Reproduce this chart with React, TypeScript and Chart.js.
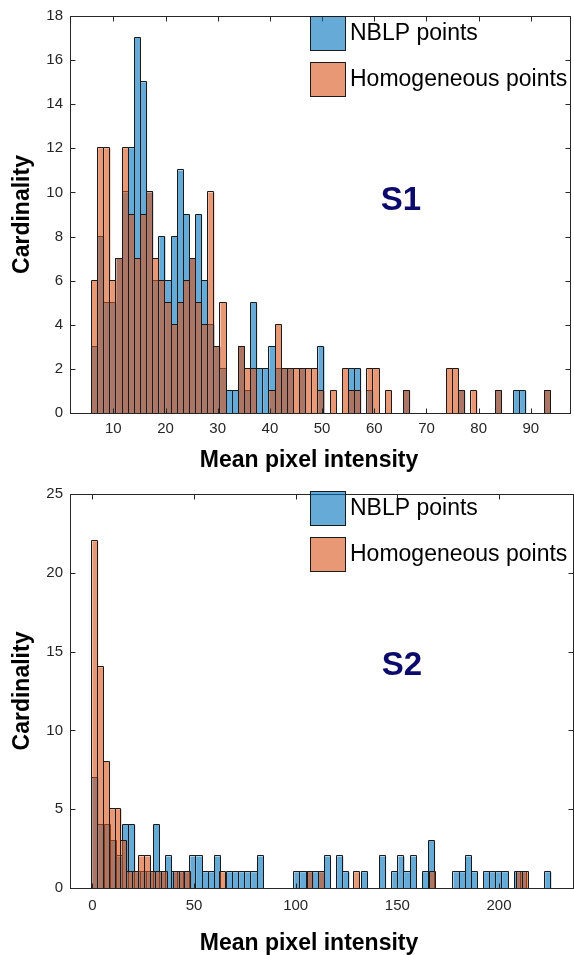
import React, { useEffect, useRef } from "react";
import { Chart, registerables } from "chart.js";

Chart.register(...registerables);

// ---------------- data ----------------
// Panel S1: both series share the same bins
const S1_BIN_START = 5.92;
const S1_BIN_WIDTH = 1.172;
const S1_NBLP = [
  3, 8, 5, 5, 7, 10, 12, 17, 15, 10,
  6, 8, 6, 8, 11, 9, 7, 9, 6, 4,
  3, 2, 1, 1, 3, 1, 5, 2, 2, 3,
  2, 2, 2, 0, 2, 0, 0, 3, 0, 0,
  0, 0, 2, 2, 0, 1, 0, 0, 0, 0,
  0, 1, 0, 0, 0, 0, 0, 0, 0, 0,
  1, 0, 0, 0, 0, 0, 1, 0, 0, 1,
  1, 0, 0, 0, 1,
];
const S1_HOMOGENEOUS = [
  6, 12, 12, 6, 7, 12, 9, 7, 9, 10,
  7, 6, 5, 4, 5, 6, 7, 5, 4, 10,
  3, 5, 0, 0, 3, 2, 2, 0, 0, 1,
  4, 2, 2, 2, 2, 2, 2, 1, 0, 1,
  0, 2, 1, 1, 0, 2, 2, 0, 1, 0,
  0, 1, 0, 0, 0, 0, 0, 0, 2, 2,
  1, 0, 1, 0, 0, 0, 1, 0, 0, 0,
  0, 0, 0, 0, 1,
];
const S1_X_TICKS = [10, 20, 30, 40, 50, 60, 70, 80, 90];
const S1_Y_TICKS = [0, 2, 4, 6, 8, 10, 12, 14, 16, 18];

// Panel S2: each series has its own bins
const S2_NBLP_BIN_START = 0;
const S2_NBLP_BIN_WIDTH = 3.01;
const S2_NBLP = [
  7, 4, 4, 3, 2, 4, 4, 1, 1, 1,
  4, 1, 2, 1, 1, 1, 2, 2, 1, 1,
  2, 0, 1, 1, 1, 1, 1, 2, 0, 0,
  0, 0, 0, 1, 1, 1, 1, 1, 2, 0,
  2, 1, 0, 0, 1, 0, 0, 2, 0, 1,
  2, 1, 2, 0, 1, 3, 0, 0, 0, 1,
  1, 2, 1, 0, 1, 1, 1, 1, 0, 1,
  1, 0, 0, 0, 1,
];
const S2_HOMOGENEOUS_BIN_START = 0;
const S2_HOMOGENEOUS_BIN_WIDTH = 2.861;
const S2_HOMOGENEOUS = [
  22, 14, 8, 5, 5, 3, 1, 1, 2, 2,
  1, 1, 1, 0, 1, 1, 1, 0, 0, 0,
  0, 0, 1, 0, 0, 0, 0, 0, 0, 0,
  0, 0, 0, 0, 0, 0, 0, 1, 0, 1,
  0, 0, 0, 0, 0, 1, 0, 0, 0, 0,
  0, 0, 0, 0, 0, 0, 0, 0, 1, 0,
  0, 0, 0, 0, 0, 0, 0, 0, 0, 0,
  0, 0, 0, 1, 1,
];
const S2_X_TICKS = [0, 50, 100, 150, 200];
const S2_Y_TICKS = [0, 5, 10, 15, 20, 25];

const SERIES_LABELS = ["NBLP points", "Homogeneous points"];

// ---------------- styles ----------------
const FONT = '"Liberation Sans", Arial, Helvetica, sans-serif';
const BLUE = "rgba(0,114,189,0.6)";
const ORANGE = "rgba(217,83,25,0.6)";
const EDGE = "#1a1a1a";
const AXIS = "#262626";
const NOTE = "#0c0a6b";

function histPoints(start: number, width: number, counts: number[]) {
  return counts.map((c, i) => ({ x: start + (i + 0.5) * width, y: c }));
}

const matlabPlugin = {
  id: "matlabFrame",
  afterDatasetDraw(chart: any, args: any) {
    const { ctx, chartArea: a } = chart;
    ctx.save();
    ctx.beginPath();
    ctx.rect(a.left, a.top - 1, a.right - a.left, a.bottom - a.top + 2);
    ctx.clip();
    ctx.strokeStyle = EDGE;
    ctx.lineWidth = 1;
    ctx.beginPath();
    for (const el of args.meta.data) {
      const p = el.getProps(["x", "y", "base", "width"], true);
      if (!isFinite(p.y) || Math.abs(p.base - p.y) < 0.5) continue;
      const l = Math.round(p.x - p.width / 2) - 0.5;
      const r = Math.round(p.x + p.width / 2) - 0.5;
      const t = Math.round(p.y) - 0.5;
      const b = Math.round(p.base);
      ctx.moveTo(l, b);
      ctx.lineTo(l, t);
      ctx.lineTo(r, t);
      ctx.lineTo(r, b);
    }
    ctx.stroke();
    ctx.restore();
  },
  afterDraw(chart: any, _args: any, opts: any) {
    const { ctx, chartArea: a, scales } = chart;
    ctx.save();
    const L = Math.round(a.left) + 0.5;
    const R = Math.round(a.right) + 0.5;
    const T = Math.round(a.top) + 0.5;
    const B = Math.round(a.bottom) + 0.5;
    ctx.strokeStyle = AXIS;
    ctx.lineWidth = 1;
    ctx.strokeRect(L, T, R - L, B - T);
    ctx.beginPath();
    for (const t of scales.x.ticks) {
      const px = Math.round(scales.x.getPixelForValue(t.value)) + 0.5;
      ctx.moveTo(px, B);
      ctx.lineTo(px, B - 5);
      ctx.moveTo(px, T);
      ctx.lineTo(px, T + 5);
    }
    for (const t of scales.y.ticks) {
      const py = Math.round(scales.y.getPixelForValue(t.value)) + 0.5;
      ctx.moveTo(L, py);
      ctx.lineTo(L + 5, py);
      ctx.moveTo(R, py);
      ctx.lineTo(R - 5, py);
    }
    ctx.stroke();

    // legend
    const colors = [BLUE, ORANGE];
    ctx.font = `23px ${FONT}`;
    ctx.textBaseline = "middle";
    ctx.textAlign = "left";
    SERIES_LABELS.forEach((label, k) => {
      const top = opts.legendTop + k * 46;
      ctx.fillStyle = colors[k];
      ctx.fillRect(311, top, 34, 34);
      ctx.strokeStyle = EDGE;
      ctx.strokeRect(310.5, top + 0.5, 35, 34);
      ctx.fillStyle = "#000";
      ctx.fillText(label, 350, top + 17.5);
    });

    // annotation
    ctx.font = `bold 33px ${FONT}`;
    ctx.fillStyle = NOTE;
    ctx.textAlign = "center";
    ctx.textBaseline = "middle";
    ctx.fillText(opts.note, opts.noteX, opts.noteY);

    // axis labels
    ctx.fillStyle = "#000";
    ctx.font = `bold 23px ${FONT}`;
    ctx.textAlign = "center";
    ctx.textBaseline = "alphabetic";
    ctx.fillText("Mean pixel intensity", opts.xLabelX, opts.xLabelY);
    ctx.save();
    ctx.translate(opts.yLabelX, (a.top + a.bottom) / 2);
    ctx.rotate(-Math.PI / 2);
    ctx.fillText("Cardinality", 0, 0);
    ctx.restore();
    ctx.restore();
  },
};

type Spec = {
  height: number;
  area: { left: number; top: number; right: number; bottom: number };
  xMin: number;
  xMax: number;
  xTicks: number[];
  yMax: number;
  yTicks: number[];
  blue: { x: number; y: number }[];
  orange: { x: number; y: number }[];
  orangeAxis: string;
  xTickPad: number;
  frame: any;
};

function buildConfig(s: Spec): any {
  const tickFont = { family: FONT, size: 15 };
  const common = {
    borderWidth: 0,
    grouped: false,
    barPercentage: 1,
    categoryPercentage: 1,
    inflateAmount: 0,
  };
  return {
    type: "bar",
    data: {
      datasets: [
        { ...common, label: SERIES_LABELS[0], data: s.blue, xAxisID: "x", backgroundColor: BLUE, order: 2 },
        { ...common, label: SERIES_LABELS[1], data: s.orange, xAxisID: s.orangeAxis, backgroundColor: ORANGE, order: 1 },
      ],
    },
    options: {
      animation: false,
      responsive: false,
      devicePixelRatio: 1,
      layout: { padding: { left: 0, right: 574 - s.area.right, top: s.area.top, bottom: 0 } },
      plugins: {
        legend: { display: false },
        tooltip: { enabled: false },
        matlabFrame: s.frame,
      },
      scales: {
        x: {
          type: "linear",
          position: "bottom",
          min: s.xMin,
          max: s.xMax,
          offset: false,
          grid: { display: false, drawTicks: false },
          border: { display: false },
          ticks: { color: AXIS, font: tickFont, padding: s.xTickPad, maxRotation: 0, includeBounds: false },
          afterBuildTicks: (sc: any) => {
            sc.ticks = s.xTicks.map((v) => ({ value: v }));
          },
          afterFit: (sc: any) => {
            sc.height = s.height - s.area.bottom;
          },
        },
        x2: {
          type: "linear",
          position: "bottom",
          display: false,
          min: s.xMin,
          max: s.xMax,
          offset: false,
        },
        y: {
          type: "linear",
          min: 0,
          max: s.yMax,
          grid: { display: false, drawTicks: false },
          border: { display: false },
          ticks: { color: AXIS, font: tickFont, padding: 7 },
          afterBuildTicks: (sc: any) => {
            sc.ticks = s.yTicks.map((v) => ({ value: v }));
          },
          afterFit: (sc: any) => {
            sc.width = s.area.left;
          },
        },
      },
    },
    plugins: [matlabPlugin],
  };
}

const TOP_SPEC: Spec = {
  height: 478,
  area: { left: 70, top: 16, right: 570, bottom: 413 },
  xMin: 1.7,
  xMax: 97.5,
  xTicks: S1_X_TICKS,
  yMax: 18,
  yTicks: S1_Y_TICKS,
  blue: histPoints(S1_BIN_START, S1_BIN_WIDTH, S1_NBLP),
  orange: histPoints(S1_BIN_START, S1_BIN_WIDTH, S1_HOMOGENEOUS),
  orangeAxis: "x",
  xTickPad: 7,
  frame: { legendTop: 16, note: "S1", noteX: 401, noteY: 201, xLabelX: 309, xLabelY: 467, yLabelX: 29 },
};

const BOTTOM_SPEC: Spec = {
  height: 477,
  area: { left: 70, top: 14, right: 573, bottom: 410 },
  xMin: -11,
  xMax: 236.4,
  xTicks: S2_X_TICKS,
  yMax: 25,
  yTicks: S2_Y_TICKS,
  blue: histPoints(S2_NBLP_BIN_START, S2_NBLP_BIN_WIDTH, S2_NBLP),
  orange: histPoints(S2_HOMOGENEOUS_BIN_START, S2_HOMOGENEOUS_BIN_WIDTH, S2_HOMOGENEOUS),
  orangeAxis: "x2",
  xTickPad: 9,
  frame: { legendTop: 13, note: "S2", noteX: 402, noteY: 188, xLabelX: 309, xLabelY: 472, yLabelX: 29 },
};

function Panel({ spec, top }: { spec: Spec; top: number }) {
  const ref = useRef<HTMLCanvasElement>(null);
  useEffect(() => {
    const chart = new Chart(ref.current as HTMLCanvasElement, buildConfig(spec));
    return () => chart.destroy();
  }, [spec]);
  return (
    <canvas
      ref={ref}
      width={574}
      height={spec.height}
      style={{ position: "absolute", left: 0, top, width: 574, height: spec.height, display: "block" }}
    />
  );
}

export default function App() {
  return (
    <div
      style={{
        position: "fixed",
        left: 0,
        top: 0,
        width: 574,
        height: 955,
        background: "#ffffff",
        overflow: "hidden",
      }}
    >
      <Panel spec={TOP_SPEC} top={0} />
      <Panel spec={BOTTOM_SPEC} top={478} />
    </div>
  );
}
